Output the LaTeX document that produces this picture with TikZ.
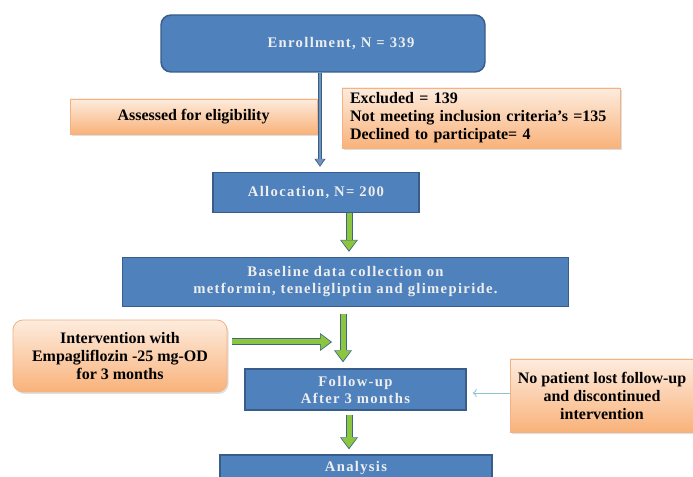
\documentclass[tikz,border=0pt]{standalone}
\usepackage{fontspec}
\setmainfont{Liberation Serif}
\newfontfamily\spacedserif[LetterSpace=9]{Liberation Serif}
\usetikzlibrary{arrows.meta, positioning, shadows}
\definecolor{boxblue}{HTML}{4F81BD}
\definecolor{edgeblue}{HTML}{385D8A}
\definecolor{peachtop}{HTML}{FDECDE}
\definecolor{peachbot}{HTML}{F9B27A}
\definecolor{peachedge}{HTML}{F4B183}
\definecolor{arrowgreen}{HTML}{8CC63F}
\definecolor{arrowedge}{HTML}{3E6584}
\definecolor{shaftblue}{HTML}{6F93B8}
\definecolor{paletext}{HTML}{EEEEEE}
\definecolor{thinblue}{HTML}{8EC3D6}
\tikzset{
	bluebox/.style={draw=edgeblue, line width=1.1pt, fill=boxblue, text=paletext,
		font=\spacedserif\bfseries\fontsize{11}{12.75}\selectfont, align=center, inner sep=0pt},
	peachbox/.style={draw=peachedge, line width=0.6pt, top color=peachtop, bottom color=peachbot,
		drop shadow={opacity=0.25, shadow xshift=1.2pt, shadow yshift=-1.5pt},
		font=\bfseries\fontsize{12}{13.5}\selectfont, align=center, inner sep=0pt},
	greenarrow/.style={draw=arrowgreen, line width=3.75pt, shorten >=#1+1.1pt,
		-{Triangle[length=7.5pt, width=11.5pt, line width=0pt]},
		preaction={draw=arrowedge, line width=5.25pt, shorten >=#1,
			-{Triangle[length=9pt, width=13.5pt, line width=0pt]}}},
	greenarrow/.default=0pt,
	bluearrow/.style={draw=shaftblue, line width=2pt, shorten >=#1+0.9pt,
		-{Triangle[length=5pt, width=6.5pt, line width=0pt]},
		preaction={draw=edgeblue, line width=3.5pt, shorten >=#1,
			-{Triangle[length=6pt, width=8.5pt, line width=0pt]}}},
	bluearrow/.default=0pt,
	thinarrow/.style={draw=thinblue, line width=0.6pt, -{To[length=3pt, width=6pt]}}
}

\begin{document}
\begin{tikzpicture}[x=0.75pt, y=-0.75pt]
	\useasboundingbox (0,0) rectangle (693,477);
	% screening
	\node[bluebox, rounded corners=7.5pt, minimum width=243pt, minimum height=42.75pt] (enroll) at (323,43.5) {\hspace*{27pt}Enrollment, N = 339};
	\node[peachbox, minimum width=185.25pt, minimum height=26.25pt] (assess) at (193.5,116.5) {Assessed for eligibility};
	\node[peachbox, align=left, text width=196.5pt, inner xsep=6pt, minimum height=45pt] (excl) at (481,118)
		{Excluded = 139\\Not meeting inclusion criteria's =135\\Declined to participate= 4};
	\node[bluebox, minimum width=154.5pt, minimum height=30pt] (alloc) at (316,192.5) {Allocation, N= 200};
	% study arm
	\node[bluebox, minimum width=334.5pt, minimum height=36.75pt] (base) at (345.5,282)
		{Baseline data collection on\\metformin, teneligliptin and glimepiride.};
	\node[peachbox, rounded corners=7.5pt, minimum width=160.5pt, minimum height=54pt] (interv) at (120,356)
		{Intervention with\\Empagliflozin -25 mg-OD\\for 3 months};
	\node[bluebox, minimum width=165.75pt, minimum height=30.75pt] (follow) at (355.5,389.5) {Follow-up\\After 3 months};
	\node[peachbox, minimum width=138pt, minimum height=54.75pt] (nolost) at (602,395.5)
		{No patient lost follow-up\\and discontinued\\intervention};
	\node[bluebox, minimum width=204pt, minimum height=19.5pt] (analysis) at (356,468) {Analysis};
	\coordinate (joinpt) at (332,342);

	\draw[bluearrow=3.75pt] ([xshift=-2.25pt]enroll.south) -- ([xshift=-2.25pt]enroll.south |- alloc.north);
	\draw[greenarrow=3.75pt] ([xshift=24.75pt]alloc.south) -- ([xshift=24.75pt]alloc.south |- base.north);
	\draw[greenarrow=4.5pt, shorten <=4.9pt] ([xshift=-1.875pt]base.south) -- ([xshift=-1.875pt]base.south |- follow.north);
	\draw[greenarrow, shorten <=3.75pt] ([yshift=10.5pt]interv.east) -- (joinpt);
	\draw[greenarrow=3.75pt, shorten <=3pt] ([xshift=-4.875pt]follow.south) -- ([xshift=-4.875pt]follow.south |- analysis.north);
	\draw[thinarrow, shorten >=4.5pt] ([yshift=1.875pt]nolost.west) -- ([yshift=1.875pt]nolost.west -| follow.east);
\end{tikzpicture}
\end{document}
